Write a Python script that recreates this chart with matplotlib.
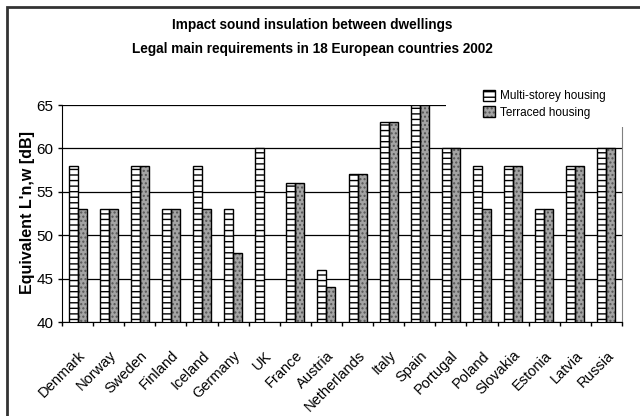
import numpy as np
import matplotlib
matplotlib.use("Agg")
import matplotlib.pyplot as plt
import matplotlib.patches as patches
from matplotlib.legend_handler import HandlerTuple

countries = ["Denmark", "Norway", "Sweden", "Finland", "Iceland", "Germany", "UK",
             "France", "Austria", "Netherlands", "Italy", "Spain", "Portugal",
             "Poland", "Slovakia", "Estonia", "Latvia", "Russia"]
multi_storey = [58, 53, 58, 53, 58, 53, 60, 56, 46, 57, 63, 65, 60, 58, 58, 53, 58, 60]
terraced = [53, 53, 58, 53, 53, 48, np.nan, 56, 44, 57, 63, 65, 60, 53, 58, 53, 58, 60]
yticks = [40, 45, 50, 55, 60, 65]

plt.rcParams["font.family"] = ["Liberation Sans", "DejaVu Sans"]
plt.rcParams["hatch.linewidth"] = 1.0

fig = plt.figure(figsize=(6.4, 4.16), dpi=100)
W, H = 640.0, 416.0
ax = fig.add_axes([62 / W, 1 - 322 / H, (622 - 62) / W, (322 - 105) / H])

x = np.arange(len(countries))
w = 0.29

# multi-storey: white with horizontal lines
m_fill = ax.bar(x - w / 2, multi_storey, w, color="white",
                edgecolor="black", hatch="---", linewidth=0, zorder=2)
m_edge = ax.bar(x - w / 2, multi_storey, w, fill=False, edgecolor="black",
                linewidth=1.0, zorder=3)
# terraced: grey dotted
t_fill = ax.bar(x + w / 2, terraced, w, color="#a4a4a4",
                edgecolor="#555555", hatch="....", linewidth=0, zorder=2)
t_edge = ax.bar(x + w / 2, terraced, w, fill=False, edgecolor="black",
                linewidth=1.0, zorder=3)

ax.set_ylim(40, 65)
ax.set_xlim(-0.5, len(countries) - 0.5)
ax.set_yticks(yticks)
ax.yaxis.grid(True, color="black", linewidth=0.9)
ax.set_axisbelow(True)
ax.tick_params(axis="y", direction="out", length=3, width=1, labelsize=11, pad=3)

ax.set_xticks(x)
ax.set_xticklabels(countries, rotation=45, ha="right", va="top",
                   rotation_mode="anchor", fontsize=10.5)
ax.set_xticks(np.arange(len(countries) + 1) - 0.5, minor=True)
ax.tick_params(axis="x", which="major", length=0, pad=19)
ax.tick_params(axis="x", which="minor", direction="out", length=3, width=1)

ax.spines["top"].set_visible(False)
ax.spines["right"].set_color("#808080")
ax.spines["left"].set_color("black")
ax.spines["bottom"].set_color("black")

# white area behind legend
fig.add_artist(patches.Rectangle((446 / W, 1 - 127 / H), 190 / W, 45 / H,
                                 transform=fig.transFigure, facecolor="white",
                                 edgecolor="none", zorder=5))

leg = fig.legend([(m_fill, m_edge), (t_fill, t_edge)],
                 ["Multi-storey housing", "Terraced housing"],
                 handler_map={tuple: HandlerTuple(ndivide=1, pad=0)},
                 loc="upper left", bbox_to_anchor=(483 / W, 1 - 90 / H),
                 frameon=False, fontsize=8.5,
                 handlelength=1.0, handleheight=1.0, labelspacing=0.35,
                 borderpad=0, handletextpad=0.4, borderaxespad=0)
leg.set_zorder(10)

fig.text(312 / W, 1 - 25 / H, "Impact sound insulation between dwellings",
         ha="center", va="center", fontsize=9.8, fontweight="bold")
fig.text(312 / W, 1 - 49 / H, "Legal main requirements in 18 European countries 2002",
         ha="center", va="center", fontsize=9.8, fontweight="bold")
fig.text(28 / W, 1 - 212 / H, "Equivalent L'n,w [dB]", rotation=90,
         ha="center", va="center", fontsize=11.5, fontweight="bold")

# chart frame
fig.add_artist(patches.Rectangle((7 / W, -0.05), 1.1, 1 - 7 / H + 0.05,
                                 transform=fig.transFigure, fill=False,
                                 edgecolor="#333333", linewidth=2, zorder=20))

fig.savefig("out.png", dpi=100)
